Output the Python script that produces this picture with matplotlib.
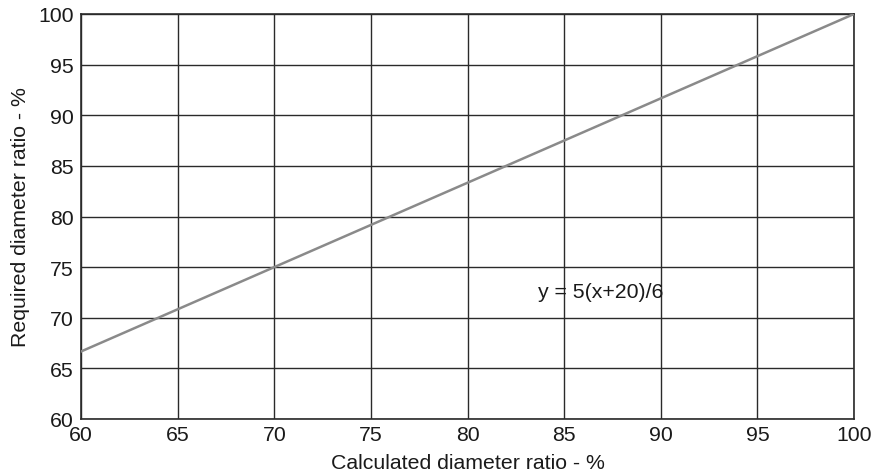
import matplotlib
matplotlib.use("Agg")
import matplotlib.pyplot as plt
import numpy as np

plt.rcParams['font.family'] = ['Liberation Sans', 'DejaVu Sans']

x_line = [60, 100]
y_line = [5 * (60 + 20) / 6, 5 * (100 + 20) / 6]
x_ticks = [60, 65, 70, 75, 80, 85, 90, 95, 100]
y_ticks = [60, 65, 70, 75, 80, 85, 90, 95, 100]
equation_label = "y = 5(x+20)/6"

FS = 15.3
fig = plt.figure(figsize=(8.77, 4.77), dpi=100)
ax = fig.add_axes([81/877, 1 - 420/477, (854-81)/877, (420-15)/477])
ax.set_xlim(60, 100)
ax.set_ylim(60, 100)
ax.set_xticks(x_ticks)
ax.set_yticks(y_ticks)
ax.grid(True, color='#2a2a2a', linewidth=1.0)
ax.tick_params(axis='x', length=0, labelsize=FS, pad=4, colors='#1a1a1a')
ax.tick_params(axis='y', length=0, labelsize=FS, pad=5, colors='#1a1a1a')
for s in ax.spines.values():
    s.set_color('#2a2a2a')
    s.set_linewidth(1.2)
ax.plot(x_line, y_line, color='#8a8a8a', linewidth=1.8, zorder=3)
ax.text(86.9, 72.6, equation_label, ha='center', va='center', fontsize=FS, color='#1a1a1a')
ax.set_xlabel('Calculated diameter ratio - %', fontsize=FS, color='#1a1a1a', labelpad=7)
ax.set_ylabel('Required diameter ratio - %', fontsize=FS, color='#1a1a1a', labelpad=6)
fig.savefig('out.png', dpi=100)
